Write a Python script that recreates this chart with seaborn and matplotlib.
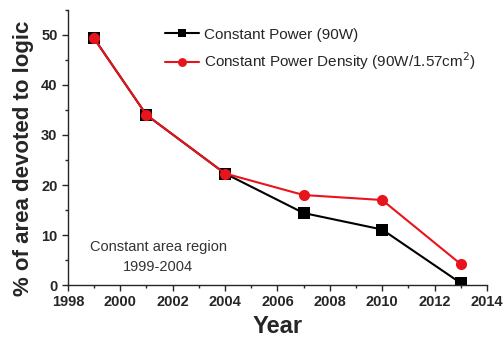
import matplotlib
matplotlib.use("Agg")
import matplotlib.pyplot as plt
import seaborn as sns
import pandas as pd
from matplotlib.ticker import MultipleLocator

years = [1999, 2001, 2004, 2007, 2010, 2013]
const_power = [49.3, 34.0, 22.3, 14.4, 11.1, 0.4]
const_density = [49.3, 34.0, 22.3, 18.0, 17.0, 4.2]
series_names = ["Constant Power (90W)", "Constant Power Density (90W/1.57cm$^2$)"]

sns.set_style("ticks")
plt.rcParams['font.family'] = ['Liberation Sans', 'DejaVu Sans']

df = pd.DataFrame({
    "Year": years * 2,
    "value": const_power + const_density,
    "series": [series_names[0]] * len(years) + [series_names[1]] * len(years),
})

fig = plt.figure(figsize=(5.03, 3.41), dpi=100)
ax = fig.add_axes([0.135, 0.164, 0.833, 0.807])

sns.lineplot(data=df, x="Year", y="value", hue="series", style="series",
             palette=["black", "#e8141c"], markers=["s", "o"], dashes=False,
             markersize=8, markeredgewidth=0, linewidth=1.5, ax=ax)

ax.set_xlim(1998, 2014)
ax.set_ylim(0, 55)
ax.xaxis.set_major_locator(MultipleLocator(2))
ax.xaxis.set_minor_locator(MultipleLocator(1))
ax.yaxis.set_major_locator(MultipleLocator(10))
ax.yaxis.set_minor_locator(MultipleLocator(5))
ax.set_yticks([0, 10, 20, 30, 40, 50])
ax.tick_params(which="major", direction="out", length=4, width=1, labelsize=10.5)
ax.tick_params(which="minor", direction="out", length=2.5, width=1)
for lab in ax.get_xticklabels() + ax.get_yticklabels():
    lab.set_fontweight("bold")
sns.despine(ax=ax)
for s in ["left", "bottom"]:
    ax.spines[s].set_linewidth(1.0)

ax.set_xlabel("Year", fontsize=17, fontweight="bold", labelpad=4)
ax.set_ylabel("% of area devoted to logic", fontsize=16, fontweight="bold")
ax.yaxis.set_label_coords(-0.08, 0.462)

ax.text(2001.45, 5.6, "Constant area region\n1999-2004", ha="center", va="center",
        fontsize=10.5, color="#333333", linespacing=1.5)

leg = ax.legend(loc="upper left", bbox_to_anchor=(0.2, 0.985), frameon=False,
                fontsize=11, handlelength=2.2, handletextpad=0.3, labelspacing=0.55,
                markerscale=0.8)

fig.savefig("out.png", dpi=100)
